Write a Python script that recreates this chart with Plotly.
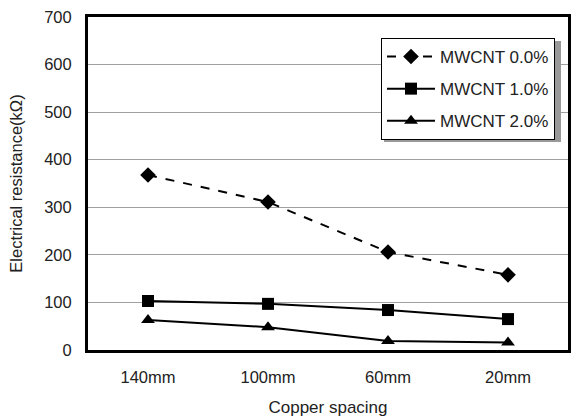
import plotly.graph_objects as go

categories = ["140mm", "100mm", "60mm", "20mm"]
mwcnt_00 = [368, 311, 206, 158]
mwcnt_10 = [103, 97, 84, 65]
mwcnt_20 = [63, 48, 19, 16]
series_names = ["MWCNT 0.0%", "MWCNT 1.0%", "MWCNT 2.0%"]
y_ticks = [0, 100, 200, 300, 400, 500, 600, 700]

W, H = 576, 417
L, R, T, B = 88, 8, 17, 67
pw, ph = W - L - R, H - T - B

def px(x):
    return (x - L) / pw

def py(y):
    return (H - B - y) / ph

fig = go.Figure()
fig.add_trace(go.Scatter(x=categories, y=mwcnt_00, name=series_names[0], mode="lines+markers",
                         legendgroup="a",
                         line=dict(color="black", width=2, dash="dash"),
                         marker=dict(symbol="diamond", size=12, color="black")))
fig.add_trace(go.Scatter(x=categories, y=mwcnt_10, name=series_names[1], mode="lines+markers",
                         legendgroup="b",
                         line=dict(color="black", width=2),
                         marker=dict(symbol="square", size=12, color="black")))
fig.add_trace(go.Scatter(x=categories, y=mwcnt_20, name=series_names[2], mode="lines+markers",
                         legendgroup="c",
                         line=dict(color="black", width=2),
                         marker=dict(symbol="triangle-up", size=12, color="black")))

font = "Liberation Sans, Arial, sans-serif"
fig.update_layout(
    width=W, height=H,
    margin=dict(l=L, r=R, t=T, b=B, autoexpand=False),
    paper_bgcolor="white", plot_bgcolor="white",
    font=dict(family=font, size=16, color="#222"),
    showlegend=True,
    legend=dict(x=px(381), y=py(38), xanchor="left", yanchor="top",
                bgcolor="white", bordercolor="black", borderwidth=1,
                font=dict(size=17, color="#222"), tracegroupgap=7,
                itemwidth=48),
    xaxis=dict(type="category", range=[-0.5, 3.5], showgrid=False, showline=True,
               linecolor="black", linewidth=3, mirror=True, ticks="", ticklen=0,
               automargin=False, ticklabelstandoff=10,
               title=dict(text="Copper spacing", standoff=18, font=dict(size=17)),
               tickfont=dict(size=16.5)),
    yaxis=dict(range=[0, 700], tickvals=y_ticks, showgrid=True, gridcolor="#a0a0a0",
               gridwidth=1, showline=True, linecolor="black", linewidth=3, mirror=True,
               ticks="", zeroline=False, automargin=False, ticklabelstandoff=10,
               title=dict(text="Electrical resistance(kΩ)", standoff=18, font=dict(size=16.5)),
               tickfont=dict(size=16.5)),
    shapes=[dict(type="rect", xref="paper", yref="paper",
                 x0=px(384), x1=px(561), y0=py(142), y1=py(41),
                 fillcolor="#999999", line=dict(width=0), layer="above")],
)

fig.write_html("out.html")
